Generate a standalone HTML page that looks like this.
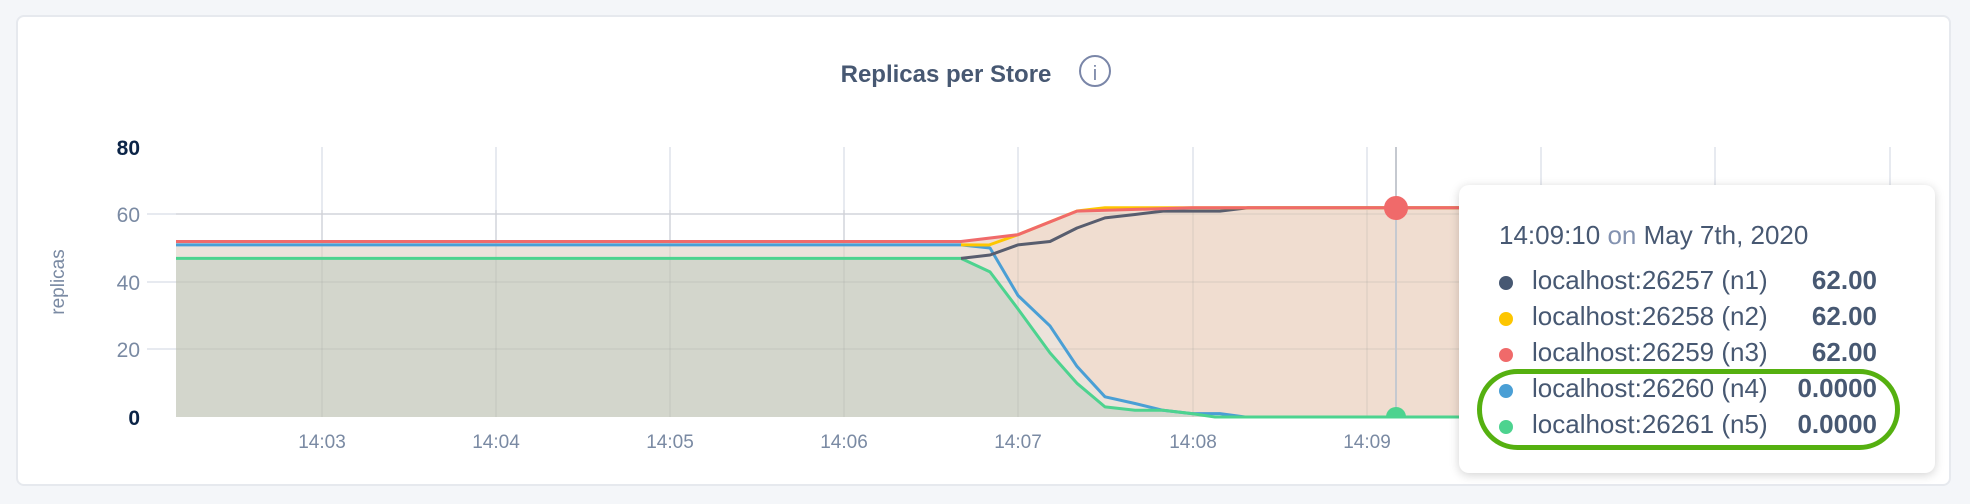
<!DOCTYPE html>
<html><head><meta charset="utf-8"><style>
html,body{margin:0;padding:0;background:#f4f6f9;}
body{width:1970px;height:504px;position:relative;overflow:hidden;font-family:"Liberation Sans",sans-serif;}
.card{position:absolute;left:16px;top:15px;width:1935px;height:471px;background:#fff;border:2px solid #e6e9ee;border-radius:8px;box-sizing:border-box;}
.tip{position:absolute;left:1459px;top:185px;width:476px;height:288px;background:#fff;border-radius:10px;box-shadow:0 2px 10px rgba(0,0,0,0.18);}
.tip .hdr{position:absolute;left:40px;top:35px;font-size:26px;color:#475872;white-space:nowrap;}
.tip .hdr span{color:#8392b0;}
.row{position:absolute;left:40px;width:378px;height:36px;font-size:26px;color:#475872;white-space:nowrap;}
.row .dot{position:absolute;left:0;top:11px;width:14px;height:14px;border-radius:50%;}
.row .lbl{position:absolute;left:33px;top:0;}
.row .val{position:absolute;right:0;top:0;font-weight:bold;}
.ell{position:absolute;left:1477px;top:369px;width:423px;height:81px;border:5px solid #55b010;border-radius:45px;box-sizing:border-box;}
</style></head><body>
<div class="card"></div>
<svg width="1970" height="504" style="position:absolute;left:0;top:0">
<text x="946" y="82" text-anchor="middle" font-family="Liberation Sans, sans-serif" font-weight="bold" font-size="24" fill="#475872">Replicas per Store</text>
<circle cx="1095" cy="71" r="15" fill="none" stroke="#7a86a8" stroke-width="2"/>
<text x="1095" y="80" text-anchor="middle" font-size="20" fill="#7a86a8" font-family="Liberation Sans, sans-serif">i</text>
<g stroke="#e7eaf0" stroke-width="2">
<line x1="147" y1="214" x2="1892" y2="214"/><line x1="147" y1="282" x2="1892" y2="282"/><line x1="147" y1="349" x2="1892" y2="349"/>
<line x1="322" y1="147" x2="322" y2="417"/><line x1="496" y1="147" x2="496" y2="417"/><line x1="670" y1="147" x2="670" y2="417"/><line x1="844" y1="147" x2="844" y2="417"/><line x1="1018" y1="147" x2="1018" y2="417"/><line x1="1193" y1="147" x2="1193" y2="417"/><line x1="1367" y1="147" x2="1367" y2="417"/><line x1="1541" y1="147" x2="1541" y2="417"/><line x1="1715" y1="147" x2="1715" y2="417"/><line x1="1890" y1="147" x2="1890" y2="417"/>
</g>
<polygon fill="#f0ddd0" points="176,241.5 961,241.5 1018,234.7 1077,211.1 1192,207.8 1892,207.8 1892,417 176,417"/>
<polygon fill="#ece3db" points="176,244.9 961,244.9 990,248 1018,295.5 1050,325.9 1077,366.4 1105,396.8 1135,403.5 1163,410.3 1192,413.6 1220,413.6 1245,417 176,417"/>
<polygon fill="#d3d6cc" points="176,258.4 961,258.4 990,271.9 1018,309 1050,352.9 1077,383.3 1105,406.9 1135,410.3 1163,410.3 1192,413.6 1215,417 176,417"/>
<g stroke="rgba(150,150,150,0.12)" stroke-width="2">
<line x1="176" y1="282" x2="1892" y2="282"/><line x1="176" y1="349" x2="1892" y2="349"/><line x1="176" y1="214" x2="1892" y2="214"/>
<line x1="322" y1="210" x2="322" y2="417"/><line x1="496" y1="210" x2="496" y2="417"/><line x1="670" y1="210" x2="670" y2="417"/><line x1="844" y1="210" x2="844" y2="417"/><line x1="1018" y1="210" x2="1018" y2="417"/><line x1="1193" y1="210" x2="1193" y2="417"/><line x1="1367" y1="210" x2="1367" y2="417"/>
</g>
<line x1="1396" y1="147" x2="1396" y2="417" stroke="#c5c9d0" stroke-width="2"/>
<g fill="none" stroke-width="3" stroke-linejoin="round">
<polyline stroke="#4a9fd5" points="176,244.9 961,244.9 990,248 1018,295.5 1050,325.9 1077,366.4 1105,396.8 1135,403.5 1163,410.3 1192,413.6 1220,413.6 1245,417 1892,417"/>
<polyline stroke="#4dd38f" points="176,258.4 961,258.4 990,271.9 1018,309 1050,352.9 1077,383.3 1105,406.9 1135,410.3 1163,410.3 1192,413.6 1215,417 1892,417"/>
<polyline stroke="#585d6e" points="961,258.4 990,255 1018,244.9 1050,241.5 1077,228 1105,217.9 1135,214.5 1163,211.1 1220,211.1 1248,207.8 1892,207.8"/>
<polyline stroke="#fdc600" points="961,244.9 989,245 1018,234.7 1077,211 1105,207.8 1892,207.8"/>
<polyline stroke="#f06a6a" points="176,241.5 961,241.5 1018,234.7 1077,211.1 1192,207.8 1892,207.8"/>
</g>
<circle cx="1396" cy="208" r="12" fill="#f06a6a"/>
<clipPath id="c"><rect x="176" y="147" width="1716" height="270"/></clipPath>
<circle cx="1396" cy="417" r="10" fill="#4dd38f" clip-path="url(#c)"/>
<g font-family="Liberation Sans, sans-serif" font-size="21" text-anchor="end">
<text x="140" y="155" fill="#0b2447" font-weight="bold">80</text>
<text x="140" y="222" fill="#7a8aa3">60</text>
<text x="140" y="290" fill="#7a8aa3">40</text>
<text x="140" y="357" fill="#7a8aa3">20</text>
<text x="140" y="425" fill="#0b2447" font-weight="bold">0</text>
</g>
<text transform="translate(64,282) rotate(-90)" text-anchor="middle" font-family="Liberation Sans, sans-serif" font-size="19" fill="#7a8aa3">replicas</text>
<g font-family="Liberation Sans, sans-serif" font-size="19" fill="#7a8aa3" text-anchor="middle">
<text x="322" y="448">14:03</text><text x="496" y="448">14:04</text><text x="670" y="448">14:05</text><text x="844" y="448">14:06</text><text x="1018" y="448">14:07</text><text x="1193" y="448">14:08</text><text x="1367" y="448">14:09</text>
</g>
</svg>
<div class="tip">
<div class="hdr">14:09:10 <span>on</span> May 7th, 2020</div>
<div class="row" style="top:80px"><div class="dot" style="background:#475872"></div><div class="lbl">localhost:26257 (n1)</div><div class="val">62.00</div></div>
<div class="row" style="top:116px"><div class="dot" style="background:#fdc600"></div><div class="lbl">localhost:26258 (n2)</div><div class="val">62.00</div></div>
<div class="row" style="top:152px"><div class="dot" style="background:#f06a6a"></div><div class="lbl">localhost:26259 (n3)</div><div class="val">62.00</div></div>
<div class="row" style="top:188px"><div class="dot" style="background:#4a9fd5"></div><div class="lbl">localhost:26260 (n4)</div><div class="val">0.0000</div></div>
<div class="row" style="top:224px"><div class="dot" style="background:#4dd38f"></div><div class="lbl">localhost:26261 (n5)</div><div class="val">0.0000</div></div>
</div>
<div class="ell"></div>
</body></html>
